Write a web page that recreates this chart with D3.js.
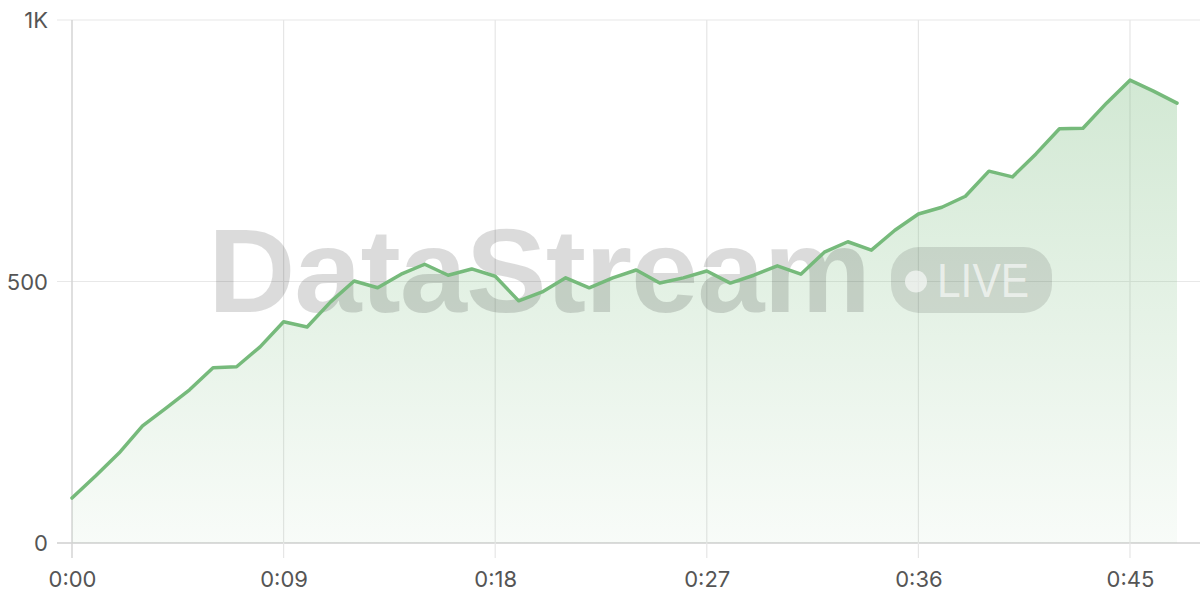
<!DOCTYPE html>
<html>
<head>
<meta charset="utf-8">
<script src="https://cdn.jsdelivr.net/npm/d3@7/dist/d3.min.js"></script>
<style>
html,body{margin:0;padding:0;background:#fff;}
svg{display:block;}
.lbl{font-family:Inter,'Helvetica Neue',Arial,sans-serif;font-size:22px;fill:#555;}
</style>
</head>
<body>
<svg id="chart" width="1200" height="600"></svg>
<script>
const seconds = d3.range(0, 48);
const values = [86,128,172,224,258,293,335,337,375,423,413,461,501,488,514,533,512,524,510,463,480,507,488,507,522,497,507,520,497,512,530,514,556,576,560,598,629,642,663,711,700,744,792,793,841,885,864,841];
const xTicks = [0, 9, 18, 27, 36, 45];
const yTicks = [0, 500, 1000];
const yTickLabels = ["0", "500", "1K"];
const watermarkText = "DataStream";
const badgeText = "LIVE";

const W = 1200, H = 600;
const m = {left: 72, right: 23, top: 20, bottom: 57};
const svg = d3.select("#chart");

const x = d3.scaleLinear().domain([0, 47]).range([m.left, W - m.right]);
const y = d3.scaleLinear().domain([0, 1000]).range([H - m.bottom, m.top]);

const defs = svg.append("defs");
const grad = defs.append("linearGradient").attr("id", "areaGrad")
  .attr("gradientUnits", "userSpaceOnUse")
  .attr("x1", 0).attr("x2", 0).attr("y1", y(d3.max(values))).attr("y2", y(0));
grad.append("stop").attr("offset", "0%").attr("stop-color", "#76ba7b").attr("stop-opacity", 0.33);
grad.append("stop").attr("offset", "100%").attr("stop-color", "#76ba7b").attr("stop-opacity", 0.05);

// horizontal grid
svg.append("g").selectAll("line").data(yTicks).join("line")
  .attr("x1", m.left - 15).attr("x2", W)
  .attr("y1", d => y(d)).attr("y2", d => y(d))
  .attr("stroke", d => d === 0 ? "#cfcfcf" : "#e8e8e8").attr("stroke-width", d => d === 0 ? 1.5 : 1.2);

// vertical grid
svg.append("g").selectAll("line").data(xTicks).join("line")
  .attr("x1", d => x(d)).attr("x2", d => x(d))
  .attr("y1", m.top).attr("y2", y(0) + 15)
  .attr("stroke", d => d === 0 ? "#d4d4d4" : "#e6e6e6").attr("stroke-width", d => d === 0 ? 1.5 : 1.2);

// area
const area = d3.area().x((d, i) => x(seconds[i])).y0(y(0)).y1(d => y(d));
svg.append("path").datum(values).attr("d", area).attr("fill", "url(#areaGrad)");

// watermark
const wm = svg.append("g").attr("pointer-events", "none");
wm.append("text").attr("x", 208).attr("y", 312)
  .attr("font-family", "'Liberation Sans', Arial, sans-serif").attr("font-weight", "bold")
  .attr("font-size", 118).attr("letter-spacing", -1)
  .attr("textLength", 662).attr("lengthAdjust", "spacingAndGlyphs")
  .attr("fill", "#000").attr("fill-opacity", 0.14).text(watermarkText);
wm.append("rect").attr("x", 891).attr("y", 247).attr("width", 161).attr("height", 66).attr("rx", 28)
  .attr("fill", "#000").attr("fill-opacity", 0.11);
wm.append("circle").attr("cx", 916).attr("cy", 281.5).attr("r", 11)
  .attr("fill", "#fff").attr("fill-opacity", 0.6);
wm.append("text").attr("x", 937).attr("y", 297)
  .attr("font-family", "'Liberation Sans', Arial, sans-serif").attr("font-size", 48)
  .attr("textLength", 92).attr("lengthAdjust", "spacingAndGlyphs")
  .attr("fill", "#fff").attr("fill-opacity", 0.62).text(badgeText);

// line
const line = d3.line().x((d, i) => x(seconds[i])).y(d => y(d));
svg.append("path").datum(values).attr("d", line)
  .attr("fill", "none").attr("stroke", "#76ba7b").attr("stroke-width", 3.5)
  .attr("stroke-linejoin", "round").attr("stroke-linecap", "round");

// axes labels
const fmt = s => Math.floor(s / 60) + ":" + String(s % 60).padStart(2, "0");
const yAxis = d3.axisLeft(y).tickValues(yTicks).tickFormat((d, i) => yTickLabels[i]).tickSize(0).tickPadding(24);
const gy = svg.append("g").attr("transform", `translate(${m.left},0)`).call(yAxis);
gy.attr("font-size", null).attr("font-family", null);
gy.select(".domain").remove();
gy.selectAll("text").attr("class", "lbl").attr("fill", null).attr("dy", "0.35em");

const xAxis = d3.axisBottom(x).tickValues(xTicks).tickFormat(fmt).tickSize(0).tickPadding(28);
const gx = svg.append("g").attr("transform", `translate(0,${y(0)})`).call(xAxis);
gx.attr("font-size", null).attr("font-family", null);
gx.select(".domain").remove();
gx.selectAll("text").attr("class", "lbl").attr("fill", null);
</script>
</body>
</html>
